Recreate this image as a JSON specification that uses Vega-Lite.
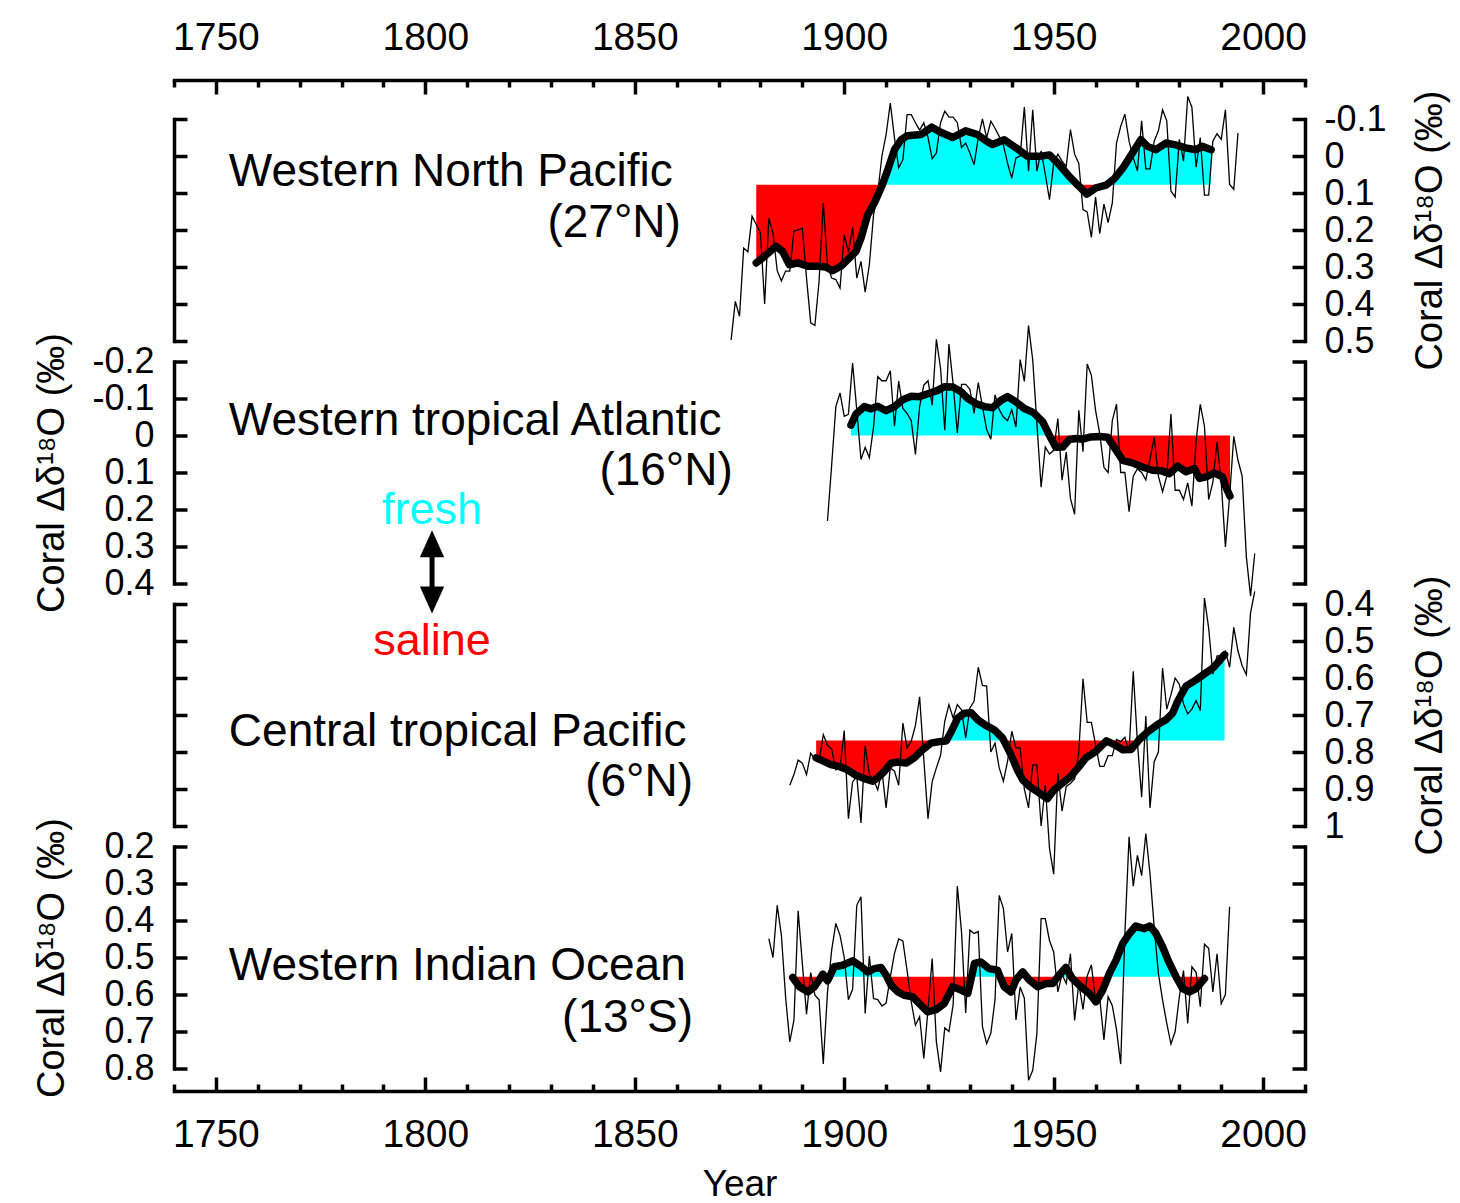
{
"$schema": "https://vega.github.io/schema/vega-lite/v6.json",
"background": "white",
"padding": {"left": 33, "top": 18, "right": 5, "bottom": 5},
"spacing": 20.5,
"bounds": "flush",
"config": {
  "font": "Liberation Sans",
  "view": {"stroke": null},
  "axis": {"grid": false, "domainColor": "black", "tickColor": "black", "labelColor": "black", "titleColor": "black", "domainWidth": 3.5, "tickWidth": 3.5, "labelOverlap": false, "labelFlush": false, "labelBound": false, "titleFontWeight": "normal", "domainCap": "square", "tickCap": "butt"}
},
"datasets": {
"raw": [
{"p":"WNP","year":1873,"v":0.497},{"p":"WNP","year":1874,"v":0.393},{"p":"WNP","year":1875,"v":0.433},{"p":"WNP","year":1876,"v":0.249},{"p":"WNP","year":1877,"v":0.259},{"p":"WNP","year":1878,"v":0.163},{"p":"WNP","year":1879,"v":0.185},{"p":"WNP","year":1880,"v":0.208},{"p":"WNP","year":1881,"v":0.4},{"p":"WNP","year":1882,"v":0.168},{"p":"WNP","year":1883,"v":0.208},{"p":"WNP","year":1884,"v":0.31},{"p":"WNP","year":1885,"v":0.338},{"p":"WNP","year":1886,"v":0.311},{"p":"WNP","year":1887,"v":0.311},{"p":"WNP","year":1888,"v":0.203},{"p":"WNP","year":1889,"v":0.2},{"p":"WNP","year":1890,"v":0.195},{"p":"WNP","year":1891,"v":0.33},{"p":"WNP","year":1892,"v":0.451},{"p":"WNP","year":1893,"v":0.458},{"p":"WNP","year":1894,"v":0.338},{"p":"WNP","year":1895,"v":0.127},{"p":"WNP","year":1896,"v":0.294},{"p":"WNP","year":1897,"v":0.33},{"p":"WNP","year":1898,"v":0.334},{"p":"WNP","year":1899,"v":0.357},{"p":"WNP","year":1900,"v":0.213},{"p":"WNP","year":1901,"v":0.26},{"p":"WNP","year":1902,"v":0.193},{"p":"WNP","year":1903,"v":0.33},{"p":"WNP","year":1904,"v":0.285},{"p":"WNP","year":1905,"v":0.368},{"p":"WNP","year":1906,"v":0.294},{"p":"WNP","year":1907,"v":0.159},{"p":"WNP","year":1908,"v":0.1},{"p":"WNP","year":1909,"v":0.0},{"p":"WNP","year":1910,"v":-0.058},{"p":"WNP","year":1911,"v":-0.143},{"p":"WNP","year":1912,"v":-0.049},{"p":"WNP","year":1913,"v":0.032},{"p":"WNP","year":1914,"v":0.01},{"p":"WNP","year":1915,"v":-0.112},{"p":"WNP","year":1916,"v":-0.112},{"p":"WNP","year":1917,"v":-0.09},{"p":"WNP","year":1918,"v":-0.07},{"p":"WNP","year":1919,"v":-0.09},{"p":"WNP","year":1920,"v":-0.05},{"p":"WNP","year":1921,"v":0.007},{"p":"WNP","year":1922,"v":-0.008},{"p":"WNP","year":1923,"v":-0.09},{"p":"WNP","year":1924,"v":-0.121},{"p":"WNP","year":1925,"v":-0.105},{"p":"WNP","year":1926,"v":-0.105},{"p":"WNP","year":1927,"v":-0.09},{"p":"WNP","year":1928,"v":-0.023},{"p":"WNP","year":1929,"v":-0.035},{"p":"WNP","year":1930,"v":-0.008},{"p":"WNP","year":1931,"v":0.024},{"p":"WNP","year":1932,"v":-0.05},{"p":"WNP","year":1933,"v":-0.1},{"p":"WNP","year":1934,"v":-0.049},{"p":"WNP","year":1935,"v":-0.094},{"p":"WNP","year":1936,"v":-0.075},{"p":"WNP","year":1937,"v":-0.053},{"p":"WNP","year":1938,"v":-0.03},{"p":"WNP","year":1939,"v":0.02},{"p":"WNP","year":1940,"v":0.06},{"p":"WNP","year":1941,"v":0.005},{"p":"WNP","year":1942,"v":0.0},{"p":"WNP","year":1943,"v":-0.132},{"p":"WNP","year":1944,"v":0.041},{"p":"WNP","year":1945,"v":-0.125},{"p":"WNP","year":1946,"v":0.041},{"p":"WNP","year":1947,"v":-0.014},{"p":"WNP","year":1948,"v":0.049},{"p":"WNP","year":1949,"v":0.118},{"p":"WNP","year":1950,"v":0.02},{"p":"WNP","year":1951,"v":-0.005},{"p":"WNP","year":1952,"v":0.014},{"p":"WNP","year":1953,"v":0.028},{"p":"WNP","year":1954,"v":-0.071},{"p":"WNP","year":1955,"v":-0.005},{"p":"WNP","year":1956,"v":0.02},{"p":"WNP","year":1957,"v":0.145},{"p":"WNP","year":1958,"v":0.151},{"p":"WNP","year":1959,"v":0.22},{"p":"WNP","year":1960,"v":0.111},{"p":"WNP","year":1961,"v":0.21},{"p":"WNP","year":1962,"v":0.13},{"p":"WNP","year":1963,"v":0.18},{"p":"WNP","year":1964,"v":0.127},{"p":"WNP","year":1965,"v":-0.035},{"p":"WNP","year":1966,"v":-0.08},{"p":"WNP","year":1967,"v":-0.113},{"p":"WNP","year":1968,"v":-0.04},{"p":"WNP","year":1969,"v":0.005},{"p":"WNP","year":1970,"v":0.04},{"p":"WNP","year":1971,"v":-0.095},{"p":"WNP","year":1972,"v":0.035},{"p":"WNP","year":1973,"v":0.035},{"p":"WNP","year":1974,"v":-0.04},{"p":"WNP","year":1975,"v":-0.068},{"p":"WNP","year":1976,"v":-0.125},{"p":"WNP","year":1977,"v":-0.095},{"p":"WNP","year":1978,"v":0.095},{"p":"WNP","year":1979,"v":0.111},{"p":"WNP","year":1980,"v":-0.045},{"p":"WNP","year":1981,"v":0.014},{"p":"WNP","year":1982,"v":-0.161},{"p":"WNP","year":1983,"v":-0.132},{"p":"WNP","year":1984,"v":0.03},{"p":"WNP","year":1985,"v":-0.05},{"p":"WNP","year":1986,"v":0.106},{"p":"WNP","year":1987,"v":0.106},{"p":"WNP","year":1988,"v":-0.04},{"p":"WNP","year":1989,"v":-0.06},{"p":"WNP","year":1990,"v":-0.045},{"p":"WNP","year":1991,"v":-0.125},{"p":"WNP","year":1992,"v":0.077},{"p":"WNP","year":1993,"v":0.09},{"p":"WNP","year":1994,"v":-0.062},
{"p":"WTA","year":1896,"v":0.231},{"p":"WTA","year":1897,"v":0.08},{"p":"WTA","year":1898,"v":-0.078},{"p":"WTA","year":1899,"v":-0.115},{"p":"WTA","year":1900,"v":-0.052},{"p":"WTA","year":1901,"v":-0.057},{"p":"WTA","year":1902,"v":-0.196},{"p":"WTA","year":1903,"v":-0.068},{"p":"WTA","year":1904,"v":0.065},{"p":"WTA","year":1905,"v":0.032},{"p":"WTA","year":1906,"v":0.06},{"p":"WTA","year":1907,"v":-0.023},{"p":"WTA","year":1908,"v":-0.159},{"p":"WTA","year":1909,"v":-0.148},{"p":"WTA","year":1910,"v":-0.148},{"p":"WTA","year":1911,"v":-0.175},{"p":"WTA","year":1912,"v":-0.025},{"p":"WTA","year":1913,"v":-0.147},{"p":"WTA","year":1914,"v":-0.073},{"p":"WTA","year":1915,"v":-0.06},{"p":"WTA","year":1916,"v":-0.04},{"p":"WTA","year":1917,"v":0.051},{"p":"WTA","year":1918,"v":-0.078},{"p":"WTA","year":1919,"v":-0.136},{"p":"WTA","year":1920,"v":-0.148},{"p":"WTA","year":1921,"v":-0.082},{"p":"WTA","year":1922,"v":-0.26},{"p":"WTA","year":1923,"v":-0.181},{"p":"WTA","year":1924,"v":-0.014},{"p":"WTA","year":1925,"v":-0.247},{"p":"WTA","year":1926,"v":-0.138},{"p":"WTA","year":1927,"v":-0.007},{"p":"WTA","year":1928,"v":-0.138},{"p":"WTA","year":1929,"v":-0.138},{"p":"WTA","year":1930,"v":-0.125},{"p":"WTA","year":1931,"v":-0.06},{"p":"WTA","year":1932,"v":-0.143},{"p":"WTA","year":1933,"v":-0.078},{"p":"WTA","year":1934,"v":-0.016},{"p":"WTA","year":1935,"v":0.01},{"p":"WTA","year":1936,"v":-0.11},{"p":"WTA","year":1937,"v":-0.07},{"p":"WTA","year":1938,"v":-0.05},{"p":"WTA","year":1939,"v":-0.04},{"p":"WTA","year":1940,"v":-0.07},{"p":"WTA","year":1941,"v":-0.023},{"p":"WTA","year":1942,"v":-0.205},{"p":"WTA","year":1943,"v":-0.146},{"p":"WTA","year":1944,"v":-0.297},{"p":"WTA","year":1945,"v":-0.204},{"p":"WTA","year":1946,"v":-0.032},{"p":"WTA","year":1947,"v":0.14},{"p":"WTA","year":1948,"v":0.031},{"p":"WTA","year":1949,"v":0.05},{"p":"WTA","year":1950,"v":0.04},{"p":"WTA","year":1951,"v":-0.046},{"p":"WTA","year":1952,"v":0.121},{"p":"WTA","year":1953,"v":0.045},{"p":"WTA","year":1954,"v":0.17},{"p":"WTA","year":1955,"v":0.213},{"p":"WTA","year":1956,"v":-0.068},{"p":"WTA","year":1957,"v":0.044},{"p":"WTA","year":1958,"v":-0.193},{"p":"WTA","year":1959,"v":-0.163},{"p":"WTA","year":1960,"v":-0.068},{"p":"WTA","year":1961,"v":-0.005},{"p":"WTA","year":1962,"v":0.086},{"p":"WTA","year":1963,"v":0.1},{"p":"WTA","year":1964,"v":-0.04},{"p":"WTA","year":1965,"v":-0.085},{"p":"WTA","year":1966,"v":0.1},{"p":"WTA","year":1967,"v":0.1},{"p":"WTA","year":1968,"v":0.206},{"p":"WTA","year":1969,"v":0.11},{"p":"WTA","year":1970,"v":0.09},{"p":"WTA","year":1971,"v":0.1},{"p":"WTA","year":1972,"v":0.12},{"p":"WTA","year":1973,"v":0.064},{"p":"WTA","year":1974,"v":0.004},{"p":"WTA","year":1975,"v":0.11},{"p":"WTA","year":1976,"v":0.152},{"p":"WTA","year":1977,"v":0.11},{"p":"WTA","year":1978,"v":-0.058},{"p":"WTA","year":1979,"v":0.148},{"p":"WTA","year":1980,"v":0.148},{"p":"WTA","year":1981,"v":0.173},{"p":"WTA","year":1982,"v":0.128},{"p":"WTA","year":1983,"v":0.191},{"p":"WTA","year":1984,"v":0.015},{"p":"WTA","year":1985,"v":-0.084},{"p":"WTA","year":1986,"v":-0.025},{"p":"WTA","year":1987,"v":0.173},{"p":"WTA","year":1988,"v":0.127},{"p":"WTA","year":1989,"v":0.017},{"p":"WTA","year":1990,"v":0.127},{"p":"WTA","year":1991,"v":0.301},{"p":"WTA","year":1992,"v":0.165},{"p":"WTA","year":1993,"v":0.002},{"p":"WTA","year":1994,"v":0.067},{"p":"WTA","year":1995,"v":0.11},{"p":"WTA","year":1996,"v":0.328},{"p":"WTA","year":1997,"v":0.434},{"p":"WTA","year":1998,"v":0.319},
{"p":"CTP","year":1887,"v":0.89},{"p":"CTP","year":1888,"v":0.861},{"p":"CTP","year":1889,"v":0.822},{"p":"CTP","year":1890,"v":0.83},{"p":"CTP","year":1891,"v":0.861},{"p":"CTP","year":1892,"v":0.803},{"p":"CTP","year":1893,"v":0.82},{"p":"CTP","year":1894,"v":0.825},{"p":"CTP","year":1895,"v":0.753},{"p":"CTP","year":1896,"v":0.782},{"p":"CTP","year":1897,"v":0.792},{"p":"CTP","year":1898,"v":0.848},{"p":"CTP","year":1899,"v":0.843},{"p":"CTP","year":1900,"v":0.742},{"p":"CTP","year":1901,"v":0.98},{"p":"CTP","year":1902,"v":0.881},{"p":"CTP","year":1903,"v":0.866},{"p":"CTP","year":1904,"v":0.992},{"p":"CTP","year":1905,"v":0.782},{"p":"CTP","year":1906,"v":0.861},{"p":"CTP","year":1907,"v":0.875},{"p":"CTP","year":1908,"v":0.902},{"p":"CTP","year":1909,"v":0.85},{"p":"CTP","year":1910,"v":0.951},{"p":"CTP","year":1911,"v":0.843},{"p":"CTP","year":1912,"v":0.852},{"p":"CTP","year":1913,"v":0.89},{"p":"CTP","year":1914,"v":0.722},{"p":"CTP","year":1915,"v":0.789},{"p":"CTP","year":1916,"v":0.771},{"p":"CTP","year":1917,"v":0.728},{"p":"CTP","year":1918,"v":0.651},{"p":"CTP","year":1919,"v":0.82},{"p":"CTP","year":1920,"v":0.98},{"p":"CTP","year":1921,"v":0.88},{"p":"CTP","year":1922,"v":0.843},{"p":"CTP","year":1923,"v":0.809},{"p":"CTP","year":1924,"v":0.717},{"p":"CTP","year":1925,"v":0.672},{"p":"CTP","year":1926,"v":0.708},{"p":"CTP","year":1927,"v":0.672},{"p":"CTP","year":1928,"v":0.686},{"p":"CTP","year":1929,"v":0.762},{"p":"CTP","year":1930,"v":0.681},{"p":"CTP","year":1931,"v":0.663},{"p":"CTP","year":1932,"v":0.571},{"p":"CTP","year":1933,"v":0.62},{"p":"CTP","year":1934,"v":0.622},{"p":"CTP","year":1935,"v":0.8},{"p":"CTP","year":1936,"v":0.776},{"p":"CTP","year":1937,"v":0.843},{"p":"CTP","year":1938,"v":0.879},{"p":"CTP","year":1939,"v":0.825},{"p":"CTP","year":1940,"v":0.744},{"p":"CTP","year":1941,"v":0.789},{"p":"CTP","year":1942,"v":0.789},{"p":"CTP","year":1943,"v":0.9},{"p":"CTP","year":1944,"v":0.951},{"p":"CTP","year":1945,"v":0.835},{"p":"CTP","year":1946,"v":0.835},{"p":"CTP","year":1947,"v":1.0},{"p":"CTP","year":1948,"v":0.89},{"p":"CTP","year":1949,"v":1.06},{"p":"CTP","year":1950,"v":1.13},{"p":"CTP","year":1951,"v":0.857},{"p":"CTP","year":1952,"v":0.96},{"p":"CTP","year":1953,"v":0.893},{"p":"CTP","year":1954,"v":0.885},{"p":"CTP","year":1955,"v":0.873},{"p":"CTP","year":1956,"v":0.8},{"p":"CTP","year":1957,"v":0.602},{"p":"CTP","year":1958,"v":0.72},{"p":"CTP","year":1959,"v":0.72},{"p":"CTP","year":1960,"v":0.78},{"p":"CTP","year":1961,"v":0.839},{"p":"CTP","year":1962,"v":0.839},{"p":"CTP","year":1963,"v":0.81},{"p":"CTP","year":1964,"v":0.81},{"p":"CTP","year":1965,"v":0.766},{"p":"CTP","year":1966,"v":0.772},{"p":"CTP","year":1967,"v":0.76},{"p":"CTP","year":1968,"v":0.8},{"p":"CTP","year":1969,"v":0.582},{"p":"CTP","year":1970,"v":0.775},{"p":"CTP","year":1971,"v":0.922},{"p":"CTP","year":1972,"v":0.703},{"p":"CTP","year":1973,"v":0.951},{"p":"CTP","year":1974,"v":0.826},{"p":"CTP","year":1975,"v":0.8},{"p":"CTP","year":1976,"v":0.573},{"p":"CTP","year":1977,"v":0.684},{"p":"CTP","year":1978,"v":0.645},{"p":"CTP","year":1979,"v":0.6},{"p":"CTP","year":1980,"v":0.617},{"p":"CTP","year":1981,"v":0.67},{"p":"CTP","year":1982,"v":0.697},{"p":"CTP","year":1983,"v":0.684},{"p":"CTP","year":1984,"v":0.661},{"p":"CTP","year":1985,"v":0.688},{"p":"CTP","year":1986,"v":0.384},{"p":"CTP","year":1987,"v":0.465},{"p":"CTP","year":1988,"v":0.59},{"p":"CTP","year":1989,"v":0.54},{"p":"CTP","year":1990,"v":0.54},{"p":"CTP","year":1991,"v":0.527},{"p":"CTP","year":1992,"v":0.571},{"p":"CTP","year":1993,"v":0.463},{"p":"CTP","year":1994,"v":0.527},{"p":"CTP","year":1995,"v":0.567},{"p":"CTP","year":1996,"v":0.591},{"p":"CTP","year":1997,"v":0.424},{"p":"CTP","year":1998,"v":0.366},
{"p":"WIO","year":1882,"v":0.449},{"p":"WIO","year":1883,"v":0.5},{"p":"WIO","year":1884,"v":0.359},{"p":"WIO","year":1885,"v":0.44},{"p":"WIO","year":1886,"v":0.606},{"p":"WIO","year":1887,"v":0.728},{"p":"WIO","year":1888,"v":0.669},{"p":"WIO","year":1889,"v":0.374},{"p":"WIO","year":1890,"v":0.516},{"p":"WIO","year":1891,"v":0.653},{"p":"WIO","year":1892,"v":0.541},{"p":"WIO","year":1893,"v":0.602},{"p":"WIO","year":1894,"v":0.614},{"p":"WIO","year":1895,"v":0.788},{"p":"WIO","year":1896,"v":0.595},{"p":"WIO","year":1897,"v":0.48},{"p":"WIO","year":1898,"v":0.408},{"p":"WIO","year":1899,"v":0.44},{"p":"WIO","year":1900,"v":0.5},{"p":"WIO","year":1901,"v":0.614},{"p":"WIO","year":1902,"v":0.586},{"p":"WIO","year":1903,"v":0.359},{"p":"WIO","year":1904,"v":0.336},{"p":"WIO","year":1905,"v":0.651},{"p":"WIO","year":1906,"v":0.496},{"p":"WIO","year":1907,"v":0.611},{"p":"WIO","year":1908,"v":0.614},{"p":"WIO","year":1909,"v":0.631},{"p":"WIO","year":1910,"v":0.623},{"p":"WIO","year":1911,"v":0.553},{"p":"WIO","year":1912,"v":0.489},{"p":"WIO","year":1913,"v":0.45},{"p":"WIO","year":1914,"v":0.455},{"p":"WIO","year":1915,"v":0.535},{"p":"WIO","year":1916,"v":0.62},{"p":"WIO","year":1917,"v":0.683},{"p":"WIO","year":1918,"v":0.66},{"p":"WIO","year":1919,"v":0.773},{"p":"WIO","year":1920,"v":0.64},{"p":"WIO","year":1921,"v":0.503},{"p":"WIO","year":1922,"v":0.728},{"p":"WIO","year":1923,"v":0.809},{"p":"WIO","year":1924,"v":0.69},{"p":"WIO","year":1925,"v":0.7},{"p":"WIO","year":1926,"v":0.628},{"p":"WIO","year":1927,"v":0.307},{"p":"WIO","year":1928,"v":0.43},{"p":"WIO","year":1929,"v":0.65},{"p":"WIO","year":1930,"v":0.426},{"p":"WIO","year":1931,"v":0.435},{"p":"WIO","year":1932,"v":0.43},{"p":"WIO","year":1933,"v":0.687},{"p":"WIO","year":1934,"v":0.733},{"p":"WIO","year":1935,"v":0.705},{"p":"WIO","year":1936,"v":0.614},{"p":"WIO","year":1937,"v":0.332},{"p":"WIO","year":1938,"v":0.368},{"p":"WIO","year":1939,"v":0.485},{"p":"WIO","year":1940,"v":0.435},{"p":"WIO","year":1941,"v":0.669},{"p":"WIO","year":1942,"v":0.58},{"p":"WIO","year":1943,"v":0.61},{"p":"WIO","year":1944,"v":0.832},{"p":"WIO","year":1945,"v":0.805},{"p":"WIO","year":1946,"v":0.705},{"p":"WIO","year":1947,"v":0.395},{"p":"WIO","year":1948,"v":0.395},{"p":"WIO","year":1949,"v":0.454},{"p":"WIO","year":1950,"v":0.485},{"p":"WIO","year":1951,"v":0.593},{"p":"WIO","year":1952,"v":0.545},{"p":"WIO","year":1953,"v":0.57},{"p":"WIO","year":1954,"v":0.49},{"p":"WIO","year":1955,"v":0.67},{"p":"WIO","year":1956,"v":0.57},{"p":"WIO","year":1957,"v":0.64},{"p":"WIO","year":1958,"v":0.55},{"p":"WIO","year":1959,"v":0.52},{"p":"WIO","year":1960,"v":0.615},{"p":"WIO","year":1961,"v":0.61},{"p":"WIO","year":1962,"v":0.723},{"p":"WIO","year":1963,"v":0.606},{"p":"WIO","year":1964,"v":0.63},{"p":"WIO","year":1965,"v":0.695},{"p":"WIO","year":1966,"v":0.788},{"p":"WIO","year":1967,"v":0.435},{"p":"WIO","year":1968,"v":0.174},{"p":"WIO","year":1969,"v":0.307},{"p":"WIO","year":1970,"v":0.224},{"p":"WIO","year":1971,"v":0.279},{"p":"WIO","year":1972,"v":0.165},{"p":"WIO","year":1973,"v":0.274},{"p":"WIO","year":1974,"v":0.418},{"p":"WIO","year":1975,"v":0.543},{"p":"WIO","year":1976,"v":0.615},{"p":"WIO","year":1977,"v":0.678},{"p":"WIO","year":1978,"v":0.734},{"p":"WIO","year":1979,"v":0.7},{"p":"WIO","year":1980,"v":0.606},{"p":"WIO","year":1981,"v":0.535},{"p":"WIO","year":1982,"v":0.678},{"p":"WIO","year":1983,"v":0.525},{"p":"WIO","year":1984,"v":0.54},{"p":"WIO","year":1985,"v":0.633},{"p":"WIO","year":1986,"v":0.464},{"p":"WIO","year":1987,"v":0.475},{"p":"WIO","year":1988,"v":0.593},{"p":"WIO","year":1989,"v":0.49},{"p":"WIO","year":1990,"v":0.625},{"p":"WIO","year":1991,"v":0.6},{"p":"WIO","year":1992,"v":0.363}
],
"sm": [
{"p":"WNP","year":1879.0,"v":0.289,"seg":1,"s":"saline"},{"p":"WNP","year":1881.0,"v":0.271,"seg":1,"s":"saline"},{"p":"WNP","year":1883.7,"v":0.244,"seg":1,"s":"saline"},{"p":"WNP","year":1885.3,"v":0.258,"seg":1,"s":"saline"},{"p":"WNP","year":1886.9,"v":0.294,"seg":1,"s":"saline"},{"p":"WNP","year":1888.9,"v":0.289,"seg":1,"s":"saline"},{"p":"WNP","year":1891.3,"v":0.298,"seg":1,"s":"saline"},{"p":"WNP","year":1893.7,"v":0.298,"seg":1,"s":"saline"},{"p":"WNP","year":1895.6,"v":0.3,"seg":1,"s":"saline"},{"p":"WNP","year":1897.2,"v":0.31,"seg":1,"s":"saline"},{"p":"WNP","year":1899.2,"v":0.298,"seg":1,"s":"saline"},{"p":"WNP","year":1901.2,"v":0.276,"seg":1,"s":"saline"},{"p":"WNP","year":1902.8,"v":0.258,"seg":1,"s":"saline"},{"p":"WNP","year":1904.0,"v":0.222,"seg":1,"s":"saline"},{"p":"WNP","year":1905.6,"v":0.159,"seg":1,"s":"saline"},{"p":"WNP","year":1907.2,"v":0.127,"seg":1,"s":"saline"},{"p":"WNP","year":1908.8,"v":0.086,"seg":1,"s":"saline"},{"p":"WNP","year":1909.1,"v":0.078,"seg":1,"s":"saline"},
{"p":"WNP","year":1909.1,"v":0.078,"seg":2,"s":"fresh"},{"p":"WNP","year":1910.4,"v":0.037,"seg":2,"s":"fresh"},{"p":"WNP","year":1912.0,"v":-0.017,"seg":2,"s":"fresh"},{"p":"WNP","year":1913.6,"v":-0.044,"seg":2,"s":"fresh"},{"p":"WNP","year":1915.1,"v":-0.055,"seg":2,"s":"fresh"},{"p":"WNP","year":1918.3,"v":-0.058,"seg":2,"s":"fresh"},{"p":"WNP","year":1920.9,"v":-0.078,"seg":2,"s":"fresh"},{"p":"WNP","year":1922.9,"v":-0.065,"seg":2,"s":"fresh"},{"p":"WNP","year":1925.9,"v":-0.05,"seg":2,"s":"fresh"},{"p":"WNP","year":1929.0,"v":-0.068,"seg":2,"s":"fresh"},{"p":"WNP","year":1931.8,"v":-0.058,"seg":2,"s":"fresh"},{"p":"WNP","year":1934.0,"v":-0.04,"seg":2,"s":"fresh"},{"p":"WNP","year":1935.4,"v":-0.031,"seg":2,"s":"fresh"},{"p":"WNP","year":1938.2,"v":-0.044,"seg":2,"s":"fresh"},{"p":"WNP","year":1941.0,"v":-0.022,"seg":2,"s":"fresh"},{"p":"WNP","year":1943.7,"v":0.001,"seg":2,"s":"fresh"},{"p":"WNP","year":1946.6,"v":0.001,"seg":2,"s":"fresh"},{"p":"WNP","year":1949.0,"v":-0.003,"seg":2,"s":"fresh"},{"p":"WNP","year":1951.3,"v":0.023,"seg":2,"s":"fresh"},{"p":"WNP","year":1953.7,"v":0.055,"seg":2,"s":"fresh"},{"p":"WNP","year":1955.7,"v":0.078,"seg":2,"s":"fresh"},
{"p":"WNP","year":1955.7,"v":0.078,"seg":3,"s":"saline"},{"p":"WNP","year":1956.1,"v":0.082,"seg":3,"s":"saline"},{"p":"WNP","year":1957.9,"v":0.103,"seg":3,"s":"saline"},{"p":"WNP","year":1960.1,"v":0.086,"seg":3,"s":"saline"},{"p":"WNP","year":1962.5,"v":0.079,"seg":3,"s":"saline"},{"p":"WNP","year":1962.6,"v":0.078,"seg":3,"s":"saline"},
{"p":"WNP","year":1962.6,"v":0.078,"seg":4,"s":"fresh"},{"p":"WNP","year":1964.5,"v":0.061,"seg":4,"s":"fresh"},{"p":"WNP","year":1966.8,"v":0.028,"seg":4,"s":"fresh"},{"p":"WNP","year":1968.8,"v":-0.008,"seg":4,"s":"fresh"},{"p":"WNP","year":1970.8,"v":-0.044,"seg":4,"s":"fresh"},{"p":"WNP","year":1972.4,"v":-0.026,"seg":4,"s":"fresh"},{"p":"WNP","year":1974.4,"v":-0.017,"seg":4,"s":"fresh"},{"p":"WNP","year":1976.8,"v":-0.035,"seg":4,"s":"fresh"},{"p":"WNP","year":1979.1,"v":-0.03,"seg":4,"s":"fresh"},{"p":"WNP","year":1981.5,"v":-0.022,"seg":4,"s":"fresh"},{"p":"WNP","year":1983.9,"v":-0.017,"seg":4,"s":"fresh"},{"p":"WNP","year":1985.5,"v":-0.026,"seg":4,"s":"fresh"},{"p":"WNP","year":1987.6,"v":-0.017,"seg":4,"s":"fresh"},
{"p":"WTA","year":1901.6,"v":-0.028,"seg":1,"s":"fresh"},{"p":"WTA","year":1902.8,"v":-0.058,"seg":1,"s":"fresh"},{"p":"WTA","year":1904.8,"v":-0.078,"seg":1,"s":"fresh"},{"p":"WTA","year":1906.4,"v":-0.072,"seg":1,"s":"fresh"},{"p":"WTA","year":1908.0,"v":-0.079,"seg":1,"s":"fresh"},{"p":"WTA","year":1910.0,"v":-0.067,"seg":1,"s":"fresh"},{"p":"WTA","year":1912.0,"v":-0.078,"seg":1,"s":"fresh"},{"p":"WTA","year":1914.0,"v":-0.097,"seg":1,"s":"fresh"},{"p":"WTA","year":1916.0,"v":-0.106,"seg":1,"s":"fresh"},{"p":"WTA","year":1918.0,"v":-0.105,"seg":1,"s":"fresh"},{"p":"WTA","year":1920.3,"v":-0.114,"seg":1,"s":"fresh"},{"p":"WTA","year":1922.3,"v":-0.122,"seg":1,"s":"fresh"},{"p":"WTA","year":1923.9,"v":-0.132,"seg":1,"s":"fresh"},{"p":"WTA","year":1925.9,"v":-0.131,"seg":1,"s":"fresh"},{"p":"WTA","year":1927.9,"v":-0.118,"seg":1,"s":"fresh"},{"p":"WTA","year":1929.5,"v":-0.1,"seg":1,"s":"fresh"},{"p":"WTA","year":1931.5,"v":-0.086,"seg":1,"s":"fresh"},{"p":"WTA","year":1933.5,"v":-0.078,"seg":1,"s":"fresh"},{"p":"WTA","year":1935.4,"v":-0.075,"seg":1,"s":"fresh"},{"p":"WTA","year":1937.4,"v":-0.095,"seg":1,"s":"fresh"},{"p":"WTA","year":1939.0,"v":-0.105,"seg":1,"s":"fresh"},{"p":"WTA","year":1941.0,"v":-0.091,"seg":1,"s":"fresh"},{"p":"WTA","year":1943.0,"v":-0.073,"seg":1,"s":"fresh"},{"p":"WTA","year":1945.2,"v":-0.062,"seg":1,"s":"fresh"},{"p":"WTA","year":1947.4,"v":-0.037,"seg":1,"s":"fresh"},{"p":"WTA","year":1949.0,"v":0.0,"seg":1,"s":"fresh"},
{"p":"WTA","year":1949.0,"v":0.0,"seg":2,"s":"saline"},{"p":"WTA","year":1950.5,"v":0.032,"seg":2,"s":"saline"},{"p":"WTA","year":1952.2,"v":0.031,"seg":2,"s":"saline"},{"p":"WTA","year":1953.7,"v":0.011,"seg":2,"s":"saline"},{"p":"WTA","year":1955.3,"v":0.008,"seg":2,"s":"saline"},{"p":"WTA","year":1956.9,"v":0.01,"seg":2,"s":"saline"},{"p":"WTA","year":1958.9,"v":0.004,"seg":2,"s":"saline"},{"p":"WTA","year":1960.9,"v":0.003,"seg":2,"s":"saline"},{"p":"WTA","year":1962.9,"v":0.005,"seg":2,"s":"saline"},{"p":"WTA","year":1964.9,"v":0.04,"seg":2,"s":"saline"},{"p":"WTA","year":1966.5,"v":0.067,"seg":2,"s":"saline"},{"p":"WTA","year":1968.8,"v":0.074,"seg":2,"s":"saline"},{"p":"WTA","year":1971.2,"v":0.085,"seg":2,"s":"saline"},{"p":"WTA","year":1973.6,"v":0.094,"seg":2,"s":"saline"},{"p":"WTA","year":1975.6,"v":0.095,"seg":2,"s":"saline"},{"p":"WTA","year":1977.6,"v":0.103,"seg":2,"s":"saline"},{"p":"WTA","year":1979.6,"v":0.083,"seg":2,"s":"saline"},{"p":"WTA","year":1981.6,"v":0.098,"seg":2,"s":"saline"},{"p":"WTA","year":1983.6,"v":0.089,"seg":2,"s":"saline"},{"p":"WTA","year":1984.8,"v":0.116,"seg":2,"s":"saline"},{"p":"WTA","year":1986.4,"v":0.112,"seg":2,"s":"saline"},{"p":"WTA","year":1988.3,"v":0.101,"seg":2,"s":"saline"},{"p":"WTA","year":1990.3,"v":0.112,"seg":2,"s":"saline"},{"p":"WTA","year":1991.1,"v":0.139,"seg":2,"s":"saline"},{"p":"WTA","year":1992.1,"v":0.164,"seg":2,"s":"saline"},
{"p":"CTP","year":1893.3,"v":0.816,"seg":1,"s":"saline"},{"p":"CTP","year":1894.9,"v":0.824,"seg":1,"s":"saline"},{"p":"CTP","year":1896.8,"v":0.834,"seg":1,"s":"saline"},{"p":"CTP","year":1898.8,"v":0.839,"seg":1,"s":"saline"},{"p":"CTP","year":1900.8,"v":0.848,"seg":1,"s":"saline"},{"p":"CTP","year":1902.8,"v":0.863,"seg":1,"s":"saline"},{"p":"CTP","year":1904.8,"v":0.872,"seg":1,"s":"saline"},{"p":"CTP","year":1906.8,"v":0.879,"seg":1,"s":"saline"},{"p":"CTP","year":1908.0,"v":0.87,"seg":1,"s":"saline"},{"p":"CTP","year":1909.6,"v":0.852,"seg":1,"s":"saline"},{"p":"CTP","year":1911.2,"v":0.83,"seg":1,"s":"saline"},{"p":"CTP","year":1912.8,"v":0.827,"seg":1,"s":"saline"},{"p":"CTP","year":1914.8,"v":0.83,"seg":1,"s":"saline"},{"p":"CTP","year":1916.7,"v":0.816,"seg":1,"s":"saline"},{"p":"CTP","year":1918.7,"v":0.794,"seg":1,"s":"saline"},{"p":"CTP","year":1920.7,"v":0.776,"seg":1,"s":"saline"},{"p":"CTP","year":1922.7,"v":0.772,"seg":1,"s":"saline"},{"p":"CTP","year":1924.3,"v":0.77,"seg":1,"s":"saline"},{"p":"CTP","year":1924.4,"v":0.769,"seg":1,"s":"saline"},
{"p":"CTP","year":1924.4,"v":0.769,"seg":2,"s":"fresh"},{"p":"CTP","year":1925.5,"v":0.746,"seg":2,"s":"fresh"},{"p":"CTP","year":1927.1,"v":0.708,"seg":2,"s":"fresh"},{"p":"CTP","year":1928.7,"v":0.695,"seg":2,"s":"fresh"},{"p":"CTP","year":1930.3,"v":0.694,"seg":2,"s":"fresh"},{"p":"CTP","year":1931.9,"v":0.713,"seg":2,"s":"fresh"},{"p":"CTP","year":1933.8,"v":0.728,"seg":2,"s":"fresh"},{"p":"CTP","year":1935.8,"v":0.74,"seg":2,"s":"fresh"},{"p":"CTP","year":1937.8,"v":0.762,"seg":2,"s":"fresh"},{"p":"CTP","year":1938.1,"v":0.769,"seg":2,"s":"fresh"},
{"p":"CTP","year":1938.1,"v":0.769,"seg":3,"s":"saline"},{"p":"CTP","year":1939.8,"v":0.807,"seg":3,"s":"saline"},{"p":"CTP","year":1941.4,"v":0.85,"seg":3,"s":"saline"},{"p":"CTP","year":1942.6,"v":0.875,"seg":3,"s":"saline"},{"p":"CTP","year":1944.2,"v":0.893,"seg":3,"s":"saline"},{"p":"CTP","year":1946.2,"v":0.908,"seg":3,"s":"saline"},{"p":"CTP","year":1948.5,"v":0.926,"seg":3,"s":"saline"},{"p":"CTP","year":1950.1,"v":0.902,"seg":3,"s":"saline"},{"p":"CTP","year":1952.1,"v":0.884,"seg":3,"s":"saline"},{"p":"CTP","year":1954.1,"v":0.866,"seg":3,"s":"saline"},{"p":"CTP","year":1956.1,"v":0.839,"seg":3,"s":"saline"},{"p":"CTP","year":1957.7,"v":0.816,"seg":3,"s":"saline"},{"p":"CTP","year":1960.1,"v":0.798,"seg":3,"s":"saline"},{"p":"CTP","year":1962.6,"v":0.77,"seg":3,"s":"saline"},{"p":"CTP","year":1964.5,"v":0.78,"seg":3,"s":"saline"},{"p":"CTP","year":1966.5,"v":0.794,"seg":3,"s":"saline"},{"p":"CTP","year":1968.5,"v":0.793,"seg":3,"s":"saline"},{"p":"CTP","year":1970.25,"v":0.769,"seg":3,"s":"saline"},
{"p":"CTP","year":1970.25,"v":0.769,"seg":4,"s":"fresh"},{"p":"CTP","year":1970.4,"v":0.767,"seg":4,"s":"fresh"},{"p":"CTP","year":1972.4,"v":0.746,"seg":4,"s":"fresh"},{"p":"CTP","year":1974.8,"v":0.726,"seg":4,"s":"fresh"},{"p":"CTP","year":1976.8,"v":0.713,"seg":4,"s":"fresh"},{"p":"CTP","year":1978.4,"v":0.695,"seg":4,"s":"fresh"},{"p":"CTP","year":1979.6,"v":0.663,"seg":4,"s":"fresh"},{"p":"CTP","year":1981.6,"v":0.622,"seg":4,"s":"fresh"},{"p":"CTP","year":1984.0,"v":0.605,"seg":4,"s":"fresh"},{"p":"CTP","year":1986.0,"v":0.589,"seg":4,"s":"fresh"},{"p":"CTP","year":1988.0,"v":0.573,"seg":4,"s":"fresh"},{"p":"CTP","year":1989.6,"v":0.553,"seg":4,"s":"fresh"},{"p":"CTP","year":1990.8,"v":0.537,"seg":4,"s":"fresh"},
{"p":"WIO","year":1887.7,"v":0.554,"seg":1,"s":"saline"},{"p":"WIO","year":1889.3,"v":0.579,"seg":1,"s":"saline"},{"p":"WIO","year":1891.3,"v":0.593,"seg":1,"s":"saline"},{"p":"WIO","year":1892.9,"v":0.579,"seg":1,"s":"saline"},{"p":"WIO","year":1894.5,"v":0.552,"seg":1,"s":"saline"},
{"p":"WIO","year":1894.5,"v":0.552,"seg":2,"s":"fresh"},{"p":"WIO","year":1894.9,"v":0.545,"seg":2,"s":"fresh"},{"p":"WIO","year":1895.3,"v":0.552,"seg":2,"s":"fresh"},
{"p":"WIO","year":1895.3,"v":0.552,"seg":3,"s":"saline"},{"p":"WIO","year":1896.0,"v":0.563,"seg":3,"s":"saline"},{"p":"WIO","year":1896.5,"v":0.552,"seg":3,"s":"saline"},
{"p":"WIO","year":1896.5,"v":0.552,"seg":4,"s":"fresh"},{"p":"WIO","year":1897.6,"v":0.525,"seg":4,"s":"fresh"},{"p":"WIO","year":1899.6,"v":0.521,"seg":4,"s":"fresh"},{"p":"WIO","year":1902.0,"v":0.509,"seg":4,"s":"fresh"},{"p":"WIO","year":1904.0,"v":0.524,"seg":4,"s":"fresh"},{"p":"WIO","year":1905.6,"v":0.539,"seg":4,"s":"fresh"},{"p":"WIO","year":1907.2,"v":0.53,"seg":4,"s":"fresh"},{"p":"WIO","year":1908.8,"v":0.527,"seg":4,"s":"fresh"},{"p":"WIO","year":1910.0,"v":0.548,"seg":4,"s":"fresh"},{"p":"WIO","year":1910.2,"v":0.552,"seg":4,"s":"fresh"},
{"p":"WIO","year":1910.2,"v":0.552,"seg":5,"s":"saline"},{"p":"WIO","year":1911.2,"v":0.575,"seg":5,"s":"saline"},{"p":"WIO","year":1912.8,"v":0.593,"seg":5,"s":"saline"},{"p":"WIO","year":1914.3,"v":0.602,"seg":5,"s":"saline"},{"p":"WIO","year":1916.3,"v":0.606,"seg":5,"s":"saline"},{"p":"WIO","year":1918.3,"v":0.629,"seg":5,"s":"saline"},{"p":"WIO","year":1919.9,"v":0.647,"seg":5,"s":"saline"},{"p":"WIO","year":1921.9,"v":0.641,"seg":5,"s":"saline"},{"p":"WIO","year":1923.9,"v":0.624,"seg":5,"s":"saline"},{"p":"WIO","year":1925.9,"v":0.579,"seg":5,"s":"saline"},{"p":"WIO","year":1927.9,"v":0.588,"seg":5,"s":"saline"},{"p":"WIO","year":1929.5,"v":0.597,"seg":5,"s":"saline"},{"p":"WIO","year":1930.4,"v":0.552,"seg":5,"s":"saline"},
{"p":"WIO","year":1930.4,"v":0.552,"seg":6,"s":"fresh"},{"p":"WIO","year":1931.1,"v":0.516,"seg":6,"s":"fresh"},{"p":"WIO","year":1932.6,"v":0.512,"seg":6,"s":"fresh"},{"p":"WIO","year":1934.6,"v":0.53,"seg":6,"s":"fresh"},{"p":"WIO","year":1936.6,"v":0.534,"seg":6,"s":"fresh"},{"p":"WIO","year":1937.2,"v":0.552,"seg":6,"s":"fresh"},
{"p":"WIO","year":1937.2,"v":0.552,"seg":7,"s":"saline"},{"p":"WIO","year":1938.2,"v":0.579,"seg":7,"s":"saline"},{"p":"WIO","year":1939.8,"v":0.593,"seg":7,"s":"saline"},{"p":"WIO","year":1941.0,"v":0.561,"seg":7,"s":"saline"},{"p":"WIO","year":1941.65,"v":0.552,"seg":7,"s":"saline"},
{"p":"WIO","year":1941.65,"v":0.552,"seg":8,"s":"fresh"},{"p":"WIO","year":1942.6,"v":0.539,"seg":8,"s":"fresh"},{"p":"WIO","year":1943.55,"v":0.552,"seg":8,"s":"fresh"},
{"p":"WIO","year":1943.55,"v":0.552,"seg":9,"s":"saline"},{"p":"WIO","year":1944.2,"v":0.561,"seg":9,"s":"saline"},{"p":"WIO","year":1946.2,"v":0.579,"seg":9,"s":"saline"},{"p":"WIO","year":1948.2,"v":0.57,"seg":9,"s":"saline"},{"p":"WIO","year":1949.8,"v":0.57,"seg":9,"s":"saline"},{"p":"WIO","year":1951.0,"v":0.552,"seg":9,"s":"saline"},
{"p":"WIO","year":1951.0,"v":0.552,"seg":10,"s":"fresh"},{"p":"WIO","year":1951.3,"v":0.548,"seg":10,"s":"fresh"},{"p":"WIO","year":1952.9,"v":0.527,"seg":10,"s":"fresh"},{"p":"WIO","year":1954.2,"v":0.552,"seg":10,"s":"fresh"},
{"p":"WIO","year":1954.2,"v":0.552,"seg":11,"s":"saline"},{"p":"WIO","year":1954.5,"v":0.557,"seg":11,"s":"saline"},{"p":"WIO","year":1956.5,"v":0.579,"seg":11,"s":"saline"},{"p":"WIO","year":1958.5,"v":0.597,"seg":11,"s":"saline"},{"p":"WIO","year":1960.1,"v":0.62,"seg":11,"s":"saline"},{"p":"WIO","year":1961.7,"v":0.588,"seg":11,"s":"saline"},{"p":"WIO","year":1963.0,"v":0.552,"seg":11,"s":"saline"},
{"p":"WIO","year":1963.0,"v":0.552,"seg":12,"s":"fresh"},{"p":"WIO","year":1963.3,"v":0.543,"seg":12,"s":"fresh"},{"p":"WIO","year":1964.9,"v":0.507,"seg":12,"s":"fresh"},{"p":"WIO","year":1966.5,"v":0.462,"seg":12,"s":"fresh"},{"p":"WIO","year":1968.1,"v":0.435,"seg":12,"s":"fresh"},{"p":"WIO","year":1969.6,"v":0.415,"seg":12,"s":"fresh"},{"p":"WIO","year":1971.6,"v":0.422,"seg":12,"s":"fresh"},{"p":"WIO","year":1973.0,"v":0.415,"seg":12,"s":"fresh"},{"p":"WIO","year":1974.4,"v":0.435,"seg":12,"s":"fresh"},{"p":"WIO","year":1976.0,"v":0.471,"seg":12,"s":"fresh"},{"p":"WIO","year":1977.3,"v":0.507,"seg":12,"s":"fresh"},{"p":"WIO","year":1979.2,"v":0.552,"seg":12,"s":"fresh"},
{"p":"WIO","year":1979.2,"v":0.552,"seg":13,"s":"saline"},{"p":"WIO","year":1980.8,"v":0.584,"seg":13,"s":"saline"},{"p":"WIO","year":1982.4,"v":0.593,"seg":13,"s":"saline"},{"p":"WIO","year":1984.0,"v":0.584,"seg":13,"s":"saline"},{"p":"WIO","year":1986.0,"v":0.557,"seg":13,"s":"saline"}
]
},
"vconcat": [
{
 "width": 1131, "height": 222,
 "layer": [
  {"data": {"name": "sm"}, "transform": [{"filter": "datum.p == 'WNP'"}],
   "mark": {"type": "area", "interpolate": "linear"},
   "encoding": {
    "x": {"field": "year", "type": "quantitative", "scale": {"domain": [1740, 2010], "nice": false, "zero": false},
          "axis": {"orient": "top", "offset": 39, "values": [1750,1800,1850,1900,1950,2000], "ticks": false, "domain": false, "labelFontSize": 39, "labelPadding": 23, "format": "d", "title": null}},
    "y": {"field": "v", "type": "quantitative", "stack": null, "scale": {"domain": [-0.1, 0.5], "nice": false, "zero": false, "reverse": true},
          "axis": {"orient": "left", "values": [-0.1,0,0.1,0.2,0.3,0.4,0.5], "labels": false, "title": null, "tickSize": -13}},
    "y2": {"datum": 0.078},
    "color": {"field": "s", "type": "nominal", "scale": {"domain": ["fresh","saline"], "range": ["#00ffff","#ff0000"]}, "legend": null},
    "detail": {"field": "seg", "type": "nominal"}
   }},
  {"data": {"name": "raw"}, "transform": [{"filter": "datum.p == 'WNP'"}],
   "mark": {"type": "line", "color": "black", "strokeWidth": 1.3},
   "encoding": {
    "x": {"field": "year", "type": "quantitative", "scale": {"domain": [1740, 2010], "nice": false, "zero": false},
          "axis": {"orient": "top", "offset": 39, "values": [1750,1800,1850,1900,1950,2000], "labels": false, "domain": true, "tickSize": -14, "title": null}},
    "y": {"field": "v", "type": "quantitative", "scale": {"domain": [-0.1, 0.5], "nice": false, "zero": false, "reverse": true},
          "axis": {"orient": "right", "values": [-0.1,0,0.1,0.2,0.3,0.4,0.5], "labels": false, "title": null, "tickSize": -13}}
   }},
  {"data": {"name": "sm"}, "transform": [{"filter": "datum.p == 'WNP'"}],
   "mark": {"type": "line", "color": "black", "strokeWidth": 7.5, "strokeJoin": "round", "strokeCap": "round"},
   "encoding": {
    "x": {"field": "year", "type": "quantitative", "scale": {"domain": [1740, 2010], "nice": false, "zero": false},
          "axis": {"orient": "top", "offset": 39, "values": [1740,1760,1770,1780,1790,1810,1820,1830,1840,1860,1870,1880,1890,1910,1920,1930,1940,1960,1970,1980,1990,2010], "labels": false, "domain": false, "tickSize": -7, "title": null}},
    "y": {"field": "v", "type": "quantitative", "scale": {"domain": [-0.1, 0.5], "nice": false, "zero": false, "reverse": true},
          "axis": {"orient": "right", "values": [-0.1,0,0.1,0.2,0.3,0.4,0.5], "ticks": false, "domain": false, "labelFontSize": 36, "labelPadding": 19, "format": ".1~f", "labelExpr": "replace(datum.label, '\u2212', '-')", "title": "Coral \u0394\u03b4\u00b9\u2078O (\u2030)", "titleFontSize": 38, "titleAngle": 270, "titleBaseline": "top", "titlePadding": 25}}
   }},
  {"data": {"values": [{}]}, "mark": {"type": "text", "align": "left", "baseline": "alphabetic", "fontSize": 46, "text": "Western North Pacific"},
   "encoding": {"x": {"datum": 1753.1, "type": "quantitative", "axis": null}, "y": {"datum": 0.0819, "type": "quantitative", "axis": null}}},
  {"data": {"values": [{}]}, "mark": {"type": "text", "align": "right", "baseline": "alphabetic", "fontSize": 46, "text": "(27\u00b0N)"},
   "encoding": {"x": {"datum": 1861.0, "type": "quantitative", "axis": null}, "y": {"datum": 0.2176, "type": "quantitative", "axis": null}}}
 ],
 "resolve": {"axis": {"x": "independent", "y": "independent"}}
},
{
 "width": 1131, "height": 222,
 "layer": [
  {"data": {"name": "sm"}, "transform": [{"filter": "datum.p == 'WTA'"}],
   "mark": {"type": "area", "interpolate": "linear"},
   "encoding": {
    "x": {"field": "year", "type": "quantitative", "scale": {"domain": [1740, 2010], "nice": false, "zero": false}, "axis": null},
    "y": {"field": "v", "type": "quantitative", "stack": null, "scale": {"domain": [-0.2, 0.4], "nice": false, "zero": false, "reverse": true},
          "axis": {"orient": "left", "values": [-0.2,-0.1,0,0.1,0.2,0.3,0.4], "labels": false, "title": null, "tickSize": -13}},
    "y2": {"datum": 0},
    "color": {"field": "s", "type": "nominal", "scale": {"domain": ["fresh","saline"], "range": ["#00ffff","#ff0000"]}, "legend": null},
    "detail": {"field": "seg", "type": "nominal"}
   }},
  {"data": {"name": "raw"}, "transform": [{"filter": "datum.p == 'WTA'"}],
   "mark": {"type": "line", "color": "black", "strokeWidth": 1.3},
   "encoding": {
    "x": {"field": "year", "type": "quantitative", "scale": {"domain": [1740, 2010], "nice": false, "zero": false}, "axis": null},
    "y": {"field": "v", "type": "quantitative", "scale": {"domain": [-0.2, 0.4], "nice": false, "zero": false, "reverse": true},
          "axis": {"orient": "right", "values": [-0.2,-0.1,0,0.1,0.2,0.3,0.4], "labels": false, "title": null, "tickSize": -13}}
   }},
  {"data": {"name": "sm"}, "transform": [{"filter": "datum.p == 'WTA'"}],
   "mark": {"type": "line", "color": "black", "strokeWidth": 7.5, "strokeJoin": "round", "strokeCap": "round"},
   "encoding": {
    "x": {"field": "year", "type": "quantitative", "scale": {"domain": [1740, 2010], "nice": false, "zero": false}, "axis": null},
    "y": {"field": "v", "type": "quantitative", "scale": {"domain": [-0.2, 0.4], "nice": false, "zero": false, "reverse": true},
          "axis": {"orient": "left", "values": [-0.2,-0.1,0,0.1,0.2,0.3,0.4], "ticks": false, "domain": false, "labelFontSize": 36, "labelPadding": 20, "format": ".1~f", "labelExpr": "replace(datum.label, '\u2212', '-')", "title": "Coral \u0394\u03b4\u00b9\u2078O (\u2030)", "titleFontSize": 38, "titlePadding": 20}}
   }},
  {"data": {"values": [{}]}, "mark": {"type": "text", "align": "left", "baseline": "alphabetic", "fontSize": 46, "text": "Western tropical Atlantic"},
   "encoding": {"x": {"datum": 1753.1, "type": "quantitative", "axis": null}, "y": {"datum": -0.002, "type": "quantitative", "axis": null}}},
  {"data": {"values": [{}]}, "mark": {"type": "text", "align": "right", "baseline": "alphabetic", "fontSize": 46, "text": "(16\u00b0N)"},
   "encoding": {"x": {"datum": 1873.4, "type": "quantitative", "axis": null}, "y": {"datum": 0.1338, "type": "quantitative", "axis": null}}},
  {"data": {"values": [{}]}, "mark": {"type": "text", "align": "center", "baseline": "alphabetic", "fontSize": 45, "text": "fresh", "color": "#00ffff"},
   "encoding": {"x": {"datum": 1801.6, "type": "quantitative", "axis": null}, "y": {"datum": 0.238, "type": "quantitative", "axis": null}}},
  {"data": {"values": [{}]}, "mark": {"type": "rule", "color": "black", "strokeWidth": 5},
   "encoding": {"x": {"datum": 1801.6, "type": "quantitative", "axis": null}, "y": {"datum": 0.2924, "type": "quantitative", "axis": null}, "y2": {"datum": 0.4446}}},
  {"data": {"values": [{}]}, "mark": {"type": "point", "shape": "M0,-1L0.9,1L-0.9,1Z", "size": 729, "filled": true, "color": "black", "opacity": 1, "strokeWidth": 0},
   "encoding": {"x": {"datum": 1801.6, "type": "quantitative", "axis": null}, "y": {"datum": 0.2924, "type": "quantitative", "axis": null}}},
  {"data": {"values": [{}]}, "mark": {"type": "point", "shape": "M0,1L0.9,-1L-0.9,-1Z", "size": 729, "filled": true, "color": "black", "opacity": 1, "strokeWidth": 0},
   "encoding": {"x": {"datum": 1801.6, "type": "quantitative", "axis": null}, "y": {"datum": 0.4446, "type": "quantitative", "axis": null}}}
 ],
 "resolve": {"axis": {"x": "independent", "y": "independent"}}
},
{
 "width": 1131, "height": 222,
 "layer": [
  {"data": {"name": "sm"}, "transform": [{"filter": "datum.p == 'CTP'"}],
   "mark": {"type": "area", "interpolate": "linear"},
   "encoding": {
    "x": {"field": "year", "type": "quantitative", "scale": {"domain": [1740, 2010], "nice": false, "zero": false}, "axis": null},
    "y": {"field": "v", "type": "quantitative", "stack": null, "scale": {"domain": [0.4, 1.0], "nice": false, "zero": false, "reverse": true},
          "axis": {"orient": "left", "values": [0.4,0.5,0.6,0.7,0.8,0.9,1], "labels": false, "title": null, "tickSize": -13}},
    "y2": {"datum": 0.769},
    "color": {"field": "s", "type": "nominal", "scale": {"domain": ["fresh","saline"], "range": ["#00ffff","#ff0000"]}, "legend": null},
    "detail": {"field": "seg", "type": "nominal"}
   }},
  {"data": {"name": "raw"}, "transform": [{"filter": "datum.p == 'CTP'"}],
   "mark": {"type": "line", "color": "black", "strokeWidth": 1.3},
   "encoding": {
    "x": {"field": "year", "type": "quantitative", "scale": {"domain": [1740, 2010], "nice": false, "zero": false}, "axis": null},
    "y": {"field": "v", "type": "quantitative", "scale": {"domain": [0.4, 1.0], "nice": false, "zero": false, "reverse": true},
          "axis": {"orient": "right", "values": [0.4,0.5,0.6,0.7,0.8,0.9,1], "labels": false, "title": null, "tickSize": -13}}
   }},
  {"data": {"name": "sm"}, "transform": [{"filter": "datum.p == 'CTP'"}],
   "mark": {"type": "line", "color": "black", "strokeWidth": 7.5, "strokeJoin": "round", "strokeCap": "round"},
   "encoding": {
    "x": {"field": "year", "type": "quantitative", "scale": {"domain": [1740, 2010], "nice": false, "zero": false}, "axis": null},
    "y": {"field": "v", "type": "quantitative", "scale": {"domain": [0.4, 1.0], "nice": false, "zero": false, "reverse": true},
          "axis": {"orient": "right", "values": [0.4,0.5,0.6,0.7,0.8,0.9,1], "ticks": false, "domain": false, "labelFontSize": 36, "labelPadding": 19, "format": ".1~f", "labelExpr": "replace(datum.label, '\u2212', '-')", "title": "Coral \u0394\u03b4\u00b9\u2078O (\u2030)", "titleFontSize": 38, "titleAngle": 270, "titleBaseline": "top", "titlePadding": 37}}
   }},
  {"data": {"values": [{}]}, "mark": {"type": "text", "align": "left", "baseline": "alphabetic", "fontSize": 46, "text": "Central tropical Pacific"},
   "encoding": {"x": {"datum": 1753.1, "type": "quantitative", "axis": null}, "y": {"datum": 0.783, "type": "quantitative", "axis": null}}},
  {"data": {"values": [{}]}, "mark": {"type": "text", "align": "right", "baseline": "alphabetic", "fontSize": 46, "text": "(6\u00b0N)"},
   "encoding": {"x": {"datum": 1863.9, "type": "quantitative", "axis": null}, "y": {"datum": 0.92, "type": "quantitative", "axis": null}}},
  {"data": {"values": [{}]}, "mark": {"type": "text", "align": "center", "baseline": "alphabetic", "fontSize": 45, "text": "saline", "color": "#ff0000"},
   "encoding": {"x": {"datum": 1801.6, "type": "quantitative", "axis": null}, "y": {"datum": 0.537, "type": "quantitative", "axis": null}}}
 ],
 "resolve": {"axis": {"x": "independent", "y": "independent"}}
},
{
 "width": 1131, "height": 222,
 "layer": [
  {"data": {"name": "sm"}, "transform": [{"filter": "datum.p == 'WIO'"}],
   "mark": {"type": "area", "interpolate": "linear"},
   "encoding": {
    "x": {"field": "year", "type": "quantitative", "scale": {"domain": [1740, 2010], "nice": false, "zero": false},
          "axis": {"orient": "bottom", "offset": 22.5, "values": [1750,1800,1850,1900,1950,2000], "ticks": false, "domain": false, "labelFontSize": 39, "labelPadding": 24, "format": "d", "title": "Year", "titleFontSize": 37, "titlePadding": 12}},
    "y": {"field": "v", "type": "quantitative", "stack": null, "scale": {"domain": [0.2, 0.8], "nice": false, "zero": false, "reverse": true},
          "axis": {"orient": "left", "values": [0.2,0.3,0.4,0.5,0.6,0.7,0.8], "labels": false, "title": null, "tickSize": -13}},
    "y2": {"datum": 0.552},
    "color": {"field": "s", "type": "nominal", "scale": {"domain": ["fresh","saline"], "range": ["#00ffff","#ff0000"]}, "legend": null},
    "detail": {"field": "seg", "type": "nominal"}
   }},
  {"data": {"name": "raw"}, "transform": [{"filter": "datum.p == 'WIO'"}],
   "mark": {"type": "line", "color": "black", "strokeWidth": 1.3},
   "encoding": {
    "x": {"field": "year", "type": "quantitative", "scale": {"domain": [1740, 2010], "nice": false, "zero": false},
          "axis": {"orient": "bottom", "offset": 22.5, "values": [1750,1800,1850,1900,1950,2000], "labels": false, "domain": true, "tickSize": -14, "title": null}},
    "y": {"field": "v", "type": "quantitative", "scale": {"domain": [0.2, 0.8], "nice": false, "zero": false, "reverse": true},
          "axis": {"orient": "right", "values": [0.2,0.3,0.4,0.5,0.6,0.7,0.8], "labels": false, "title": null, "tickSize": -13}}
   }},
  {"data": {"name": "sm"}, "transform": [{"filter": "datum.p == 'WIO'"}],
   "mark": {"type": "line", "color": "black", "strokeWidth": 7.5, "strokeJoin": "round", "strokeCap": "round"},
   "encoding": {
    "x": {"field": "year", "type": "quantitative", "scale": {"domain": [1740, 2010], "nice": false, "zero": false},
          "axis": {"orient": "bottom", "offset": 22.5, "values": [1740,1760,1770,1780,1790,1810,1820,1830,1840,1860,1870,1880,1890,1910,1920,1930,1940,1960,1970,1980,1990,2010], "labels": false, "domain": false, "tickSize": -7, "title": null}},
    "y": {"field": "v", "type": "quantitative", "scale": {"domain": [0.2, 0.8], "nice": false, "zero": false, "reverse": true},
          "axis": {"orient": "left", "values": [0.2,0.3,0.4,0.5,0.6,0.7,0.8], "ticks": false, "domain": false, "labelFontSize": 36, "labelPadding": 20, "format": ".1~f", "labelExpr": "replace(datum.label, '\u2212', '-')", "title": "Coral \u0394\u03b4\u00b9\u2078O (\u2030)", "titleFontSize": 38, "titlePadding": 32}}
   }},
  {"data": {"values": [{}]}, "mark": {"type": "text", "align": "left", "baseline": "alphabetic", "fontSize": 46, "text": "Western Indian Ocean"},
   "encoding": {"x": {"datum": 1753.1, "type": "quantitative", "axis": null}, "y": {"datum": 0.562, "type": "quantitative", "axis": null}}},
  {"data": {"values": [{}]}, "mark": {"type": "text", "align": "right", "baseline": "alphabetic", "fontSize": 46, "text": "(13\u00b0S)"},
   "encoding": {"x": {"datum": 1863.9, "type": "quantitative", "axis": null}, "y": {"datum": 0.7014, "type": "quantitative", "axis": null}}}
 ],
 "resolve": {"axis": {"x": "independent", "y": "independent"}}
}
]
}
